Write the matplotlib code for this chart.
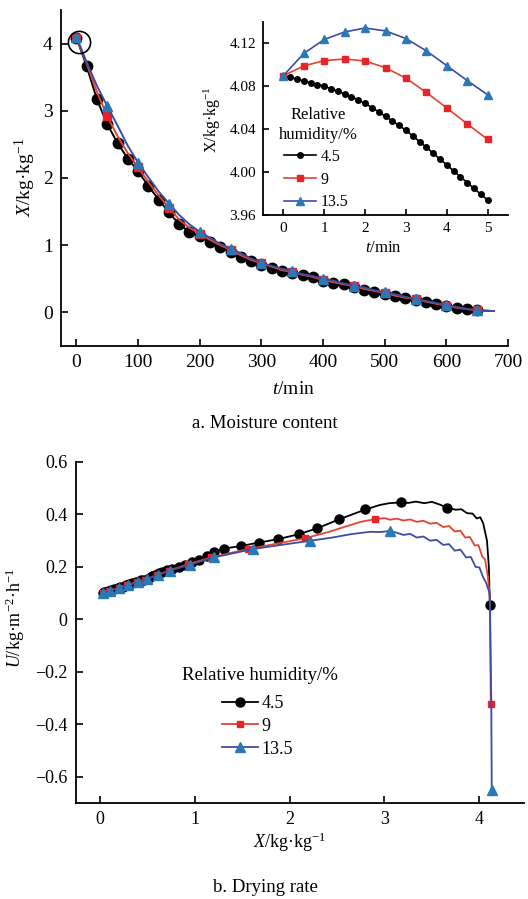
import numpy as np
import matplotlib
matplotlib.use('Agg')
import matplotlib.pyplot as plt
import matplotlib.transforms as mtransforms

plt.rcParams['font.family'] = ['Liberation Serif', 'DejaVu Serif']
plt.rcParams['mathtext.fontset'] = 'custom'
plt.rcParams['mathtext.rm'] = 'Liberation Serif'
plt.rcParams['mathtext.it'] = 'Liberation Serif:italic'
plt.rcParams['axes.linewidth'] = 1.3

# ---- a. moisture content, X (kg/kg) vs t (min)
labels = ['4.5', '9', '13.5']  # relative humidity / %
t_a = [0, 16.7, 33.3, 50, 66.7, 83.3, 100, 116.7, 133.3, 150, 166.7, 183.3, 200,
       216.7, 233.3, 250, 266.7, 283.3, 300, 316.7, 333.3, 350, 366.7, 383.3, 400,
       416.7, 433.3, 450, 466.7, 483.3, 500, 516.7, 533.3, 550, 566.7, 583.3, 600,
       616.7, 633.3, 650]
X_a_45 = [4.09, 3.66, 3.17, 2.80, 2.52, 2.29, 2.10, 1.88, 1.68, 1.49, 1.31, 1.20, 1.13,
          1.05, 0.97, 0.90, 0.83, 0.76, 0.71, 0.66, 0.62, 0.58, 0.55, 0.52, 0.47,
          0.44, 0.42, 0.38, 0.34, 0.31, 0.28, 0.24, 0.21, 0.19, 0.15, 0.12, 0.09,
          0.07, 0.05, 0.03]
X_a_9 = [4.09, 3.70, 3.28, 2.92, 2.62, 2.37, 2.16, 1.94, 1.74, 1.56, 1.38, 1.26, 1.17,
         1.08, 1.00, 0.93, 0.85, 0.78, 0.73, 0.68, 0.63, 0.60, 0.56, 0.53, 0.48,
         0.45, 0.42, 0.39, 0.35, 0.32, 0.29, 0.25, 0.22, 0.20, 0.16, 0.13, 0.10,
         0.07, 0.05, 0.03]
X_a_135 = [4.10, 3.72, 3.37, 3.07, 2.78, 2.48, 2.23, 2.01, 1.80, 1.62, 1.45, 1.31, 1.20,
           1.11, 1.02, 0.95, 0.88, 0.80, 0.74, 0.69, 0.65, 0.61, 0.57, 0.54, 0.50,
           0.47, 0.43, 0.40, 0.37, 0.33, 0.30, 0.27, 0.23, 0.20, 0.17, 0.14, 0.11,
           0.08, 0.05, 0.03]
t_tail = 677
X_tail = 0.02

# ---- inset: first 5 min
t_in_45 = [0, 0.167, 0.333, 0.5, 0.667, 0.833, 1, 1.167, 1.333, 1.5, 1.667, 1.833, 2,
           2.167, 2.333, 2.5, 2.667, 2.833, 3, 3.167, 3.333, 3.5, 3.667, 3.833, 4,
           4.167, 4.333, 4.5, 4.667, 4.833, 5]
X_in_45 = [4.0900, 4.0884, 4.0867, 4.0850, 4.0834, 4.0817, 4.0800, 4.0778, 4.0755,
           4.0730, 4.0702, 4.0672, 4.0640, 4.0602, 4.0562, 4.0520, 4.0478, 4.0435,
           4.0390, 4.0337, 4.0285, 4.0232, 4.0177, 4.0122, 4.0067, 4.0012, 3.9957,
           3.9902, 3.9848, 3.9794, 3.9740]
t_in = [0, 0.5, 1, 1.5, 2, 2.5, 3, 3.5, 4, 4.5, 5]
X_in_9 = [4.090, 4.099, 4.104, 4.1055, 4.1036, 4.0974, 4.0876, 4.0743, 4.0598, 4.045, 4.0305]
X_in_135 = [4.090, 4.1107, 4.1237, 4.1307, 4.1344, 4.1317, 4.1246, 4.1131, 4.0993, 4.0854, 4.0721]

# ---- b. drying rate, U vs X (marker points)
Xb_45 = [0.03, 0.05, 0.07, 0.09, 0.12, 0.15, 0.19, 0.21, 0.24, 0.28, 0.31, 0.34, 0.38,
         0.42, 0.44, 0.47, 0.52, 0.55, 0.58, 0.62, 0.66, 0.71, 0.76, 0.83, 0.90, 0.97,
         1.05, 1.13, 1.20, 1.31, 1.49, 1.68, 1.88, 2.10, 2.29, 2.52, 2.80, 3.17, 3.66, 4.11]
Ub_45 = [0.100, 0.103, 0.106, 0.108, 0.112, 0.116, 0.120, 0.122, 0.125, 0.130, 0.134,
         0.138, 0.142, 0.147, 0.149, 0.152, 0.159, 0.164, 0.169, 0.175, 0.182, 0.189,
         0.193, 0.200, 0.208, 0.218, 0.228, 0.241, 0.257, 0.270, 0.280, 0.293, 0.306,
         0.325, 0.347, 0.381, 0.419, 0.446, 0.426, 0.054]
Xb_9 = [0.03, 0.10, 0.20, 0.29, 0.39, 0.48, 0.60, 0.73, 0.93, 1.17, 1.56, 2.16, 2.90, 4.12]
Ub_9 = [0.100, 0.110, 0.120, 0.130, 0.142, 0.152, 0.168, 0.186, 0.210, 0.236, 0.268,
        0.309, 0.382, -0.322]
Xb_135 = [0.03, 0.11, 0.20, 0.30, 0.40, 0.50, 0.61, 0.74, 0.95, 1.20, 1.61, 2.22, 3.06, 4.13]
Ub_135 = [0.100, 0.110, 0.120, 0.131, 0.143, 0.154, 0.170, 0.186, 0.208, 0.236, 0.268,
          0.300, 0.337, -0.650]
# extra points of the (wiggly) line between markers
Xb_45_line = [2.95, 3.05, 3.25, 3.33, 3.42, 3.50, 3.58, 3.75, 3.81, 3.87, 3.93, 3.97,
              4.01, 4.04, 4.08, 4.10]
Ub_45_line = [0.436, 0.443, 0.444, 0.449, 0.443, 0.448, 0.438, 0.418, 0.420, 0.405,
              0.403, 0.385, 0.389, 0.366, 0.300, 0.200]
Xb_9_line = [2.40, 2.60, 2.75, 3.00, 3.06, 3.13, 3.20, 3.27, 3.34, 3.41, 3.48, 3.55,
             3.62, 3.68, 3.74, 3.80, 3.85, 3.90, 3.95, 3.99, 4.03, 4.06, 4.09, 4.11]
Ub_9_line = [0.332, 0.355, 0.372, 0.386, 0.380, 0.384, 0.377, 0.381, 0.372, 0.376,
             0.365, 0.368, 0.352, 0.356, 0.335, 0.338, 0.312, 0.314, 0.282, 0.283,
             0.240, 0.228, 0.162, 0.085]
Xb_135_line = [2.45, 2.65, 2.85, 2.95, 3.13, 3.20, 3.27, 3.34, 3.41, 3.48, 3.55, 3.62,
               3.68, 3.74, 3.80, 3.86, 3.91, 3.96, 4.00, 4.04, 4.07, 4.11, 4.125]
Ub_135_line = [0.312, 0.325, 0.334, 0.333, 0.330, 0.322, 0.326, 0.312, 0.316, 0.300,
               0.303, 0.284, 0.287, 0.262, 0.266, 0.236, 0.238, 0.200, 0.198, 0.160,
               0.140, 0.098, -0.300]

BLACK = '#000000'
RED_L, RED_M = '#e2452f', '#e8232a'
BLUE_L, BLUE_M = '#3d4ca3', '#2a78b6'

W, H = 528, 899
fig = plt.figure(figsize=(W / 100, H / 100), dpi=100)


def rect(x0, y0, x1, y1):
    # pixel box (top-left origin) -> figure fraction
    return [x0 / W, 1 - y1 / H, (x1 - x0) / W, (y1 - y0) / H]


def ftext(x, y, s, **kw):
    fig.text(x / W, 1 - y / H, s, ha='center', va='center', **kw)


def style(ax, size):
    for side in ['top', 'right']:
        ax.spines[side].set_visible(False)
    ax.tick_params(direction='in', length=5, width=1.2, labelsize=size, pad=6)


# ---------------- panel a
ax = fig.add_axes(rect(61, 10, 508, 346))
style(ax, 14)
ax.plot(t_a + [t_tail], X_a_45 + [X_tail], color=BLACK, lw=1.4, marker='o', ms=7.5,
        markevery=slice(0, len(t_a)))
ax.plot(t_a + [t_tail], X_a_9 + [X_tail], color=RED_L, lw=1.4, marker='s', ms=5.5,
        mfc=RED_M, mec=RED_M, markevery=slice(0, len(t_a), 3))
ax.plot(t_a + [t_tail], X_a_135 + [X_tail], color=BLUE_L, lw=1.4, marker='^', ms=7.5,
        mfc=BLUE_M, mec=BLUE_M, markevery=slice(0, len(t_a), 3))
shift = mtransforms.ScaledTranslation(0.023, -0.043, fig.dpi_scale_trans)
ax.plot(t_a[0], X_a_45[0], marker='o', ms=16, mfc='none', mec='k', mew=1.2,
        transform=ax.transData + shift, clip_on=False)
ax.set_xlim(-25, 700)
ax.set_ylim(-0.5, 4.5)
ax.set_xticks(range(0, 701, 100))
ax.set_yticks([0, 1, 2, 3, 4])
ax.set_yticklabels(['0', '1', '2', '3', '4'])

# inset
axi = fig.add_axes(rect(263, 22, 508, 215))
style(axi, 11)
axi.tick_params(length=4, pad=5)
axi.plot(t_in_45, X_in_45, color=BLACK, lw=1.2, marker='o', ms=4, label=labels[0])
axi.plot(t_in, X_in_9, color=RED_L, lw=1.2, marker='s', ms=4.5, mfc=RED_M, mec=RED_M,
         label=labels[1])
axi.plot(t_in, X_in_135, color=BLUE_L, lw=1.2, marker='^', ms=5.5, mfc=BLUE_M, mec=BLUE_M,
         label=labels[2])
axi.set_xlim(-0.5, 5.5)
axi.set_ylim(3.96, 4.14)
axi.set_xticks(range(0, 6))
axi.set_yticks([3.96, 4.00, 4.04, 4.08, 4.12])
axi.set_yticklabels(['3.96', '4.00', '4.04', '4.08', '4.12'])
axi.legend(loc='upper left', frameon=False,
           bbox_to_anchor=(284 / W, 1 - 149 / H), bbox_transform=fig.transFigure,
           fontsize=11.5, handlelength=2.0, handletextpad=0.3,
           labelspacing=0.42, borderpad=0, borderaxespad=0)
ftext(318, 115, 'Relative', fontsize=12)
ftext(318, 135, 'humidity/%', fontsize=12)

ftext(25, 177, r'$X$/kg·kg$^{-1}$', fontsize=14, rotation=90)
ftext(293, 389, r'$t$/min', fontsize=14)
ftext(212, 120, r'X/kg·kg$^{-1}$', fontsize=11.5, rotation=90)
ftext(383, 248, r'$t$/min', fontsize=12)
ftext(265, 423, 'a. Moisture content', fontsize=13.5)

# ---------------- panel b
axb = fig.add_axes(rect(76, 462, 524, 803))
style(axb, 13)


def line_pts(xm, um, xe, ue):
    x = np.array(xm + xe)
    u = np.array(um + ue)
    o = np.argsort(x, kind='stable')
    return x[o], u[o]


for xm, um, xe, ue, col, mc, mk, ms, lab in [
        (Xb_45, Ub_45, Xb_45_line, Ub_45_line, BLACK, BLACK, 'o', 6.5, labels[0]),
        (Xb_9, Ub_9, Xb_9_line, Ub_9_line, RED_L, RED_M, 's', 5, labels[1]),
        (Xb_135, Ub_135, Xb_135_line, Ub_135_line, BLUE_L, BLUE_M, '^', 7, labels[2])]:
    lx, lu = line_pts(xm, um, xe, ue)
    axb.plot(lx, lu, color=col, lw=1.3)
    axb.plot(xm, um, ls='none', marker=mk, ms=ms, mfc=mc, mec=mc)
    axb.plot([], [], color=col, lw=1.3, marker=mk, ms=ms, mfc=mc, mec=mc, label=lab)

axb.set_xlim(-0.25, 4.47)
axb.set_ylim(-0.70, 0.6)
axb.set_xticks([0, 1, 2, 3, 4])
axb.set_yticks([-0.6, -0.4, -0.2, 0, 0.2, 0.4, 0.6])
axb.set_yticklabels(['\u22120.6', '\u22120.4', '\u22120.2', '0', '0.2', '0.4', '0.6'])
axb.legend(loc='upper left', frameon=False,
           bbox_to_anchor=(222 / W, 1 - 695 / H), bbox_transform=fig.transFigure,
           fontsize=13, handlelength=2.0, handletextpad=0.2,
           labelspacing=0.32, borderpad=0, borderaxespad=0)
ftext(260, 676, 'Relative humidity/%', fontsize=13.5)

ftext(15, 618, r'$U$/kg·m$^{-2}$·h$^{-1}$', fontsize=13, rotation=90)
ftext(290, 842, r'$X$/kg·kg$^{-1}$', fontsize=13)
ftext(265, 887, 'b. Drying rate', fontsize=13.5)

fig.savefig('out.png', dpi=100)
